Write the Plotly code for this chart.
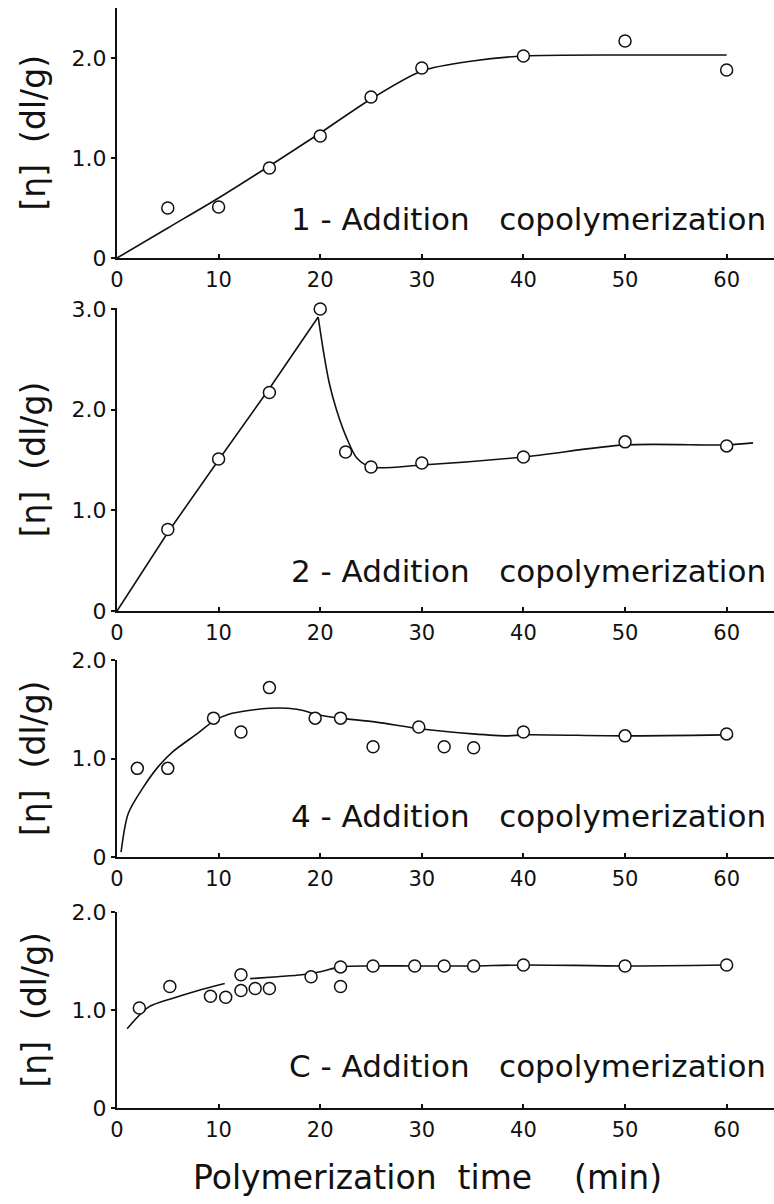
import plotly.graph_objects as go

# ---- data -------------------------------------------------------------
# Panel 1: 1-Addition copolymerization
t1 = [5, 10, 15, 20, 25, 30, 40, 50, 60]
eta1 = [0.50, 0.51, 0.90, 1.22, 1.61, 1.90, 2.02, 2.17, 1.88]
fit1_t = [0, 5, 10, 15, 20, 25, 30, 35, 40, 50, 60]
fit1_eta = [0, 0.30, 0.60, 0.92, 1.25, 1.59, 1.87, 1.97, 2.02, 2.03, 2.03]

# Panel 2: 2-Addition copolymerization
t2 = [5, 10, 15, 20, 22.5, 25, 30, 40, 50, 60]
eta2 = [0.81, 1.51, 2.17, 3.00, 1.58, 1.43, 1.47, 1.53, 1.68, 1.64]
rise2_t = [0, 5, 10, 15, 19.8]
rise2_eta = [0, 0.78, 1.50, 2.21, 2.92]
fall2_t = [19.8, 20.4, 20.9, 21.6, 22.6, 23.6, 25, 30, 40, 50, 60, 62.6]
fall2_eta = [2.92, 2.53, 2.26, 2.00, 1.72, 1.52, 1.43, 1.45, 1.53, 1.65, 1.65, 1.67]

# Panel 3: 4-Addition copolymerization
t3 = [2, 5, 9.5, 12.2, 15, 19.5, 22, 25.2, 29.7, 32.2, 35.1, 40, 50, 60]
eta3 = [0.90, 0.90, 1.41, 1.27, 1.72, 1.41, 1.41, 1.12, 1.32, 1.12, 1.11, 1.27, 1.23, 1.25]
fit3_t = [0.4, 1.1, 2.6, 4.0, 5.5, 8.0, 9.5, 11, 15, 17.7, 20, 22, 25.5, 30, 35, 38.5, 40, 50, 60]
fit3_eta = [0.05, 0.44, 0.71, 0.91, 1.07, 1.26, 1.38, 1.45, 1.51, 1.50, 1.44, 1.41, 1.37,
            1.30, 1.25, 1.23, 1.24, 1.23, 1.24]

# Panel 4: C-Addition copolymerization
t4 = [2.2, 5.2, 9.2, 10.7, 12.2, 12.2, 13.6, 15, 19.1, 22, 22, 25.2, 29.3, 32.2, 35.1, 40, 50, 60]
eta4 = [1.02, 1.24, 1.14, 1.13, 1.36, 1.20, 1.22, 1.22, 1.34, 1.44, 1.24, 1.45, 1.45, 1.45,
        1.45, 1.46, 1.45, 1.46]
fit4_t = [1.0, 3.1, 5.5, 8.0, 10.6, None, 13.1, 15.8, 18.2, 20, 22, 25, 29, 32, 35, 40, 50, 60]
fit4_eta = [0.81, 1.03, 1.12, 1.20, 1.27, None, 1.32, 1.34, 1.36, 1.39, 1.44, 1.45, 1.45,
            1.45, 1.45, 1.46, 1.45, 1.46]

panel_labels = ["1 - Addition   copolymerization", "2 - Addition   copolymerization",
                "4 - Addition   copolymerization", "C - Addition   copolymerization"]
x_ticks = [0, 10, 20, 30, 40, 50, 60]
y_title = "[η]  (dl/g)"
x_title = "Polymerization  time    (min)"

# ---- figure -----------------------------------------------------------
FONT = "DejaVu Sans"
INK = "#111111"
fig = go.Figure()

panels = [
    dict(pts=(t1, eta1), fits=[(fit1_t, fit1_eta, "spline")], ymax=2.5,
         yt=[0, 1, 2], dom=[0.7857, 0.9934], ly=0.39),
    dict(pts=(t2, eta2), fits=[(rise2_t, rise2_eta, "linear"), (fall2_t, fall2_eta, "spline")],
         ymax=3.005, yt=[0, 1, 2, 3], dom=[0.4925, 0.7438], ly=0.40),
    dict(pts=(t3, eta3), fits=[(fit3_t, fit3_eta, "spline")], ymax=2.0,
         yt=[0, 1, 2], dom=[0.2882, 0.4518], ly=0.42),
    dict(pts=(t4, eta4), fits=[(fit4_t, fit4_eta, "spline")], ymax=2.0,
         yt=[0, 1, 2], dom=[0.0797, 0.2425], ly=0.43),
]

for i, p in enumerate(panels, start=1):
    xa = "x" if i == 1 else f"x{i}"
    ya = "y" if i == 1 else f"y{i}"
    for fx, fy, shape in p["fits"]:
        fig.add_trace(go.Scatter(x=fx, y=fy, mode="lines", xaxis=xa, yaxis=ya,
                                 line=dict(color=INK, width=1.6, shape=shape, smoothing=0.8),
                                 connectgaps=False, showlegend=False, hoverinfo="skip"))
    fig.add_trace(go.Scatter(x=p["pts"][0], y=p["pts"][1], mode="markers", xaxis=xa, yaxis=ya,
                             marker=dict(symbol="circle", size=12, color="white",
                                         line=dict(color=INK, width=1.5)),
                             cliponaxis=False, showlegend=False))
    axis_x = dict(domain=[0, 1], anchor=ya, range=[0, 64.66], tickvals=x_ticks,
                  ticks="inside", ticklen=4, tickwidth=1.5, tickcolor=INK,
                  showline=True, linecolor=INK, linewidth=2, showgrid=False, zeroline=False,
                  automargin=False,
                  tickfont=dict(family=FONT, size=21, color=INK), ticklabelstandoff=2)
    axis_y = dict(domain=p["dom"], anchor=xa, range=[0, p["ymax"]], tickvals=p["yt"],
                  ticktext=["0" if v == 0 else f"{v:.1f}" for v in p["yt"]],
                  ticks="outside", ticklen=4, tickwidth=1.5, tickcolor=INK,
                  showline=True, linecolor=INK, linewidth=2, showgrid=False, zeroline=False,
                  automargin=False,
                  tickfont=dict(family=FONT, size=22, color=INK))
    fig.update_layout({("xaxis" if i == 1 else f"xaxis{i}"): axis_x,
                       ("yaxis" if i == 1 else f"yaxis{i}"): axis_y})
    fig.add_annotation(x=64.1, y=p["ly"], xref=xa, yref=ya, text=panel_labels[i - 1],
                       showarrow=False, xanchor="right", yanchor="middle",
                       font=dict(family=FONT, size=31, color=INK))
    fig.add_annotation(x=-0.127, y=sum(p["dom"]) / 2, xref="paper", yref="paper",
                       text=y_title, textangle=-90, showarrow=False,
                       xanchor="center", yanchor="middle",
                       font=dict(family=FONT, size=33, color=INK))

fig.add_annotation(x=0.473, y=0.0216, xref="paper", yref="paper", text=x_title,
                   showarrow=False, xanchor="center", yanchor="middle",
                   font=dict(family=FONT, size=33, color=INK))

fig.update_layout(width=774, height=1204, margin=dict(l=117, r=0, t=0, b=0),
                  paper_bgcolor="white", plot_bgcolor="white")

fig.write_html("out.html")
